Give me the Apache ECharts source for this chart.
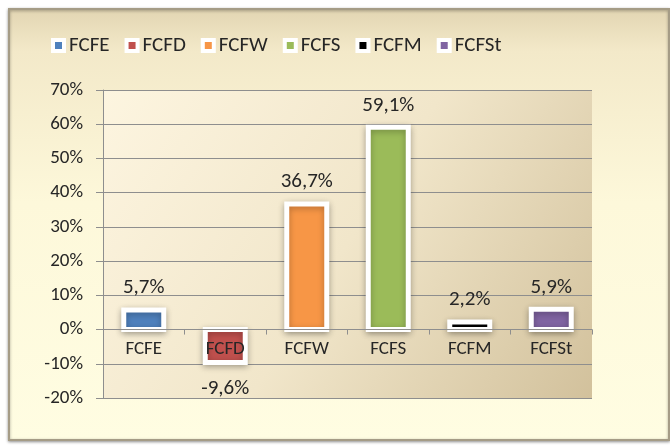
<!DOCTYPE html>
<html>
<head>
<meta charset="utf-8">
<script src="https://cdn.jsdelivr.net/npm/echarts@6/dist/echarts.min.js"></script>
<style>
  html, body { margin: 0; padding: 0; background: #fff; }
  #chart { width: 670px; height: 445px; }
</style>
</head>
<body>
<div id="chart"></div>
<script>
// categories and values (percent)
var categories = ["FCFE", "FCFD", "FCFW", "FCFS", "FCFM", "FCFSt"];
var values = [5.7, -9.6, 36.7, 59.1, 2.2, 5.9];
var colors = ["#4F81BD", "#C0504D", "#F79646", "#9BBB59", "#000000", "#8064A2"];
var yTicks = { min: -20, max: 70, step: 10 };

var FONT = "Carlito, Lato, 'Liberation Sans', sans-serif";
var GRID = { left: 103, right: 78, top: 90, bottom: 47 };
var gridH = 445 - GRID.top - GRID.bottom;
// move the category axis up to the zero line
var zeroOffset = -gridH * (0 - yTicks.min) / (yTicks.max - yTicks.min);
var BAR_W = 40;

var chart = echarts.init(document.getElementById("chart"));

function fmt(v) {
  return v.toFixed(1).replace(".", ",") + "%";
}

// Excel style bar: white border drawn centred on the value rectangle
function renderBar(params, api) {
  var idx = api.value(0);
  var v = api.value(1);
  var top = api.coord([idx, v]);
  var base = api.coord([idx, 0]);
  var neg = v < 0;
  return {
    type: "rect",
    shape: {
      x: top[0] - BAR_W / 2,
      y: Math.min(top[1], base[1]),
      width: BAR_W,
      height: Math.abs(base[1] - top[1])
    },
    style: {
      fill: api.visual("color"),
      stroke: "#ffffff",
      lineWidth: 5,
      shadowBlur: 6,
      shadowOffsetY: 2,
      shadowColor: "rgba(0,0,0,0.28)"
    },
    textContent: {
      style: {
        text: fmt(v),
        fontFamily: FONT,
        fontSize: 21,
        fill: "#262626"
      }
    },
    textConfig: {
      position: neg ? "bottom" : "top",
      distance: neg ? 13 : 9
    }
  };
}

// one series per category so every bar gets its own legend entry
var series = categories.map(function (name, i) {
  return {
    name: name,
    type: "custom",
    renderItem: renderBar,
    itemStyle: { color: colors[i] },
    encode: { x: 0, y: 1 },
    data: [[i, values[i]]]
  };
});

var option = {
  backgroundColor: "#ffffff",
  animation: false,
  graphic: [
    {
      type: "rect",
      z: -10,
      shape: { x: 9, y: 9, width: 660, height: 431 },
      style: {
        fill: new echarts.graphic.LinearGradient(0, 0, 0, 1, [
          { offset: 0, color: "#E2D5B2" },
          { offset: 0.1, color: "#F3E9C9" },
          { offset: 0.45, color: "#FDF8DA" },
          { offset: 1, color: "#FFFDE2" }
        ]),
        stroke: "#A59C86",
        lineWidth: 2,
        shadowBlur: 3,
        shadowColor: "rgba(0,0,0,0.35)",
        shadowOffsetY: 1
      }
    }
  ],
  legend: {
    top: 30,
    left: 46,
    itemGap: 15,
    itemWidth: 11,
    itemHeight: 11,
    icon: "rect",
    itemStyle: { borderColor: "#ffffff", borderWidth: 4 },
    textStyle: { fontFamily: FONT, fontSize: 21, color: "#262626" },
    data: categories
  },
  grid: {
    left: GRID.left,
    right: GRID.right,
    top: GRID.top,
    bottom: GRID.bottom,
    show: true,
    borderWidth: 0,
    backgroundColor: new echarts.graphic.LinearGradient(0, 0, 1, 1, [
      { offset: 0, color: "#FDF5E0" },
      { offset: 0.5, color: "#F1E6CA" },
      { offset: 1, color: "#D2C19C" }
    ])
  },
  xAxis: {
    type: "category",
    data: categories,
    z: 3,
    offset: zeroOffset,
    axisLine: { onZero: false, lineStyle: { color: "#8E8E8E", width: 1 } },
    axisTick: { show: true, length: 5, inside: false, lineStyle: { color: "#8E8E8E" } },
    axisLabel: { fontFamily: FONT, fontSize: 19, color: "#262626", margin: 10 }
  },
  yAxis: {
    type: "value",
    min: yTicks.min,
    max: yTicks.max,
    interval: yTicks.step,
    axisLine: { show: true, lineStyle: { color: "#8E8E8E", width: 1 } },
    axisTick: { show: true, length: 7, lineStyle: { color: "#8E8E8E" } },
    splitLine: { show: true, lineStyle: { color: "#8E8E8E", width: 1 } },
    axisLabel: {
      fontFamily: FONT,
      fontSize: 19,
      color: "#262626",
      margin: 20,
      formatter: "{value}%"
    }
  },
  series: series
};

chart.setOption(option);
</script>
</body>
</html>
